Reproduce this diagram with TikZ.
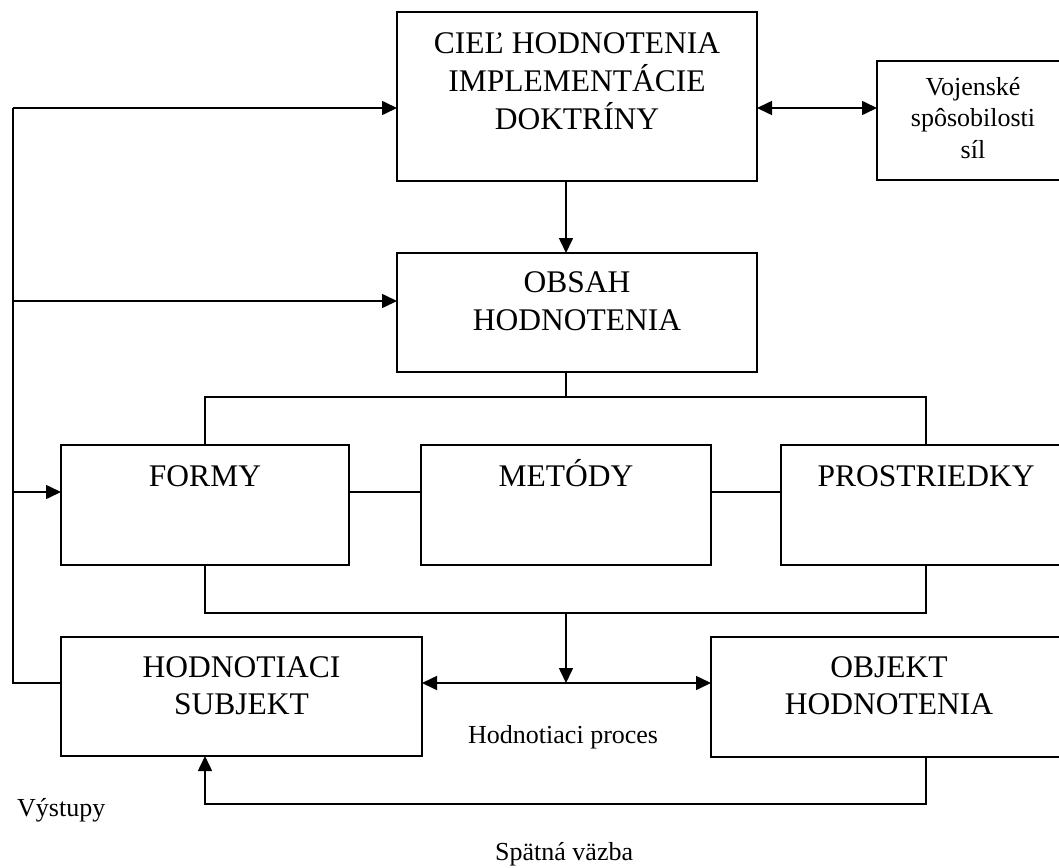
\documentclass[tikz,border=0pt]{standalone}
\usepackage{fontspec}
\setmainfont{Liberation Serif}
\usetikzlibrary{arrows.meta}
\newcommand\stack[1]{\begin{tabular}[t]{@{}c@{}}#1\end{tabular}}
\begin{document}
\begin{tikzpicture}[x=1pt,y=-1pt,
  box/.style={draw,line width=1.6pt,inner sep=0pt,outer sep=0pt},
  btxt/.style={inner sep=0pt,anchor=base,font=\fontsize{31.5}{37}\selectfont},
  stxt/.style={inner sep=0pt,font=\fontsize{26}{31.5}\selectfont},
  line/.style={line width=1.6pt},
  arr/.style={line width=1.6pt,-{Triangle[length=15pt,width=14pt]}},
  darr/.style={line width=1.6pt,{Triangle[length=15pt,width=14pt]}-{Triangle[length=15pt,width=14pt]}}]
\useasboundingbox (0,0) rectangle (1059,867);
\clip (0,0) rectangle (1059,867);

% boxes
\node[box,minimum width=360pt,minimum height=169pt] (ciel)   at (577,96.5) {};
\node[box,minimum width=192pt,minimum height=119pt] (voj)    at (973,120.5) {};
\node[box,minimum width=360pt,minimum height=119pt] (obsah)  at (577,312.5) {};
\node[box,minimum width=288pt,minimum height=120pt] (formy)  at (205,505) {};
\node[box,minimum width=290pt,minimum height=120pt] (metody) at (566,505) {};
\node[box,minimum width=290pt,minimum height=120pt] (prost)  at (926,505) {};
\node[box,minimum width=361pt,minimum height=119pt] (subj)   at (241.5,696.5) {};
\node[box,minimum width=356pt,minimum height=120pt] (objekt) at (889,697) {};

% box texts
\node[btxt] (ciel-t)   at ([yshift=-41pt]ciel.north) {\stack{CIEĽ HODNOTENIA\\IMPLEMENTÁCIE\\DOKTRÍNY}};
\node[stxt,anchor=base] (voj-t) at ([yshift=-34pt]voj.north) {\stack{Vojenské\\spôsobilosti\\síl}};
\node[btxt,font=\fontsize{31.5}{38.5}\selectfont] (obsah-t) at ([yshift=-39pt]obsah.north) {\stack{OBSAH\\HODNOTENIA}};
\node[btxt] (formy-t)  at ([yshift=-41pt]formy.north) {FORMY};
\node[btxt] (metody-t) at ([yshift=-41pt]metody.north) {METÓDY};
\node[btxt] (prost-t)  at ([yshift=-41pt]prost.north) {PROSTRIEDKY};
\node[btxt] (subj-t)   at ([yshift=-40pt]subj.north) {\stack{HODNOTIACI\\SUBJEKT}};
\node[btxt] (objekt-t) at ([yshift=-40pt]objekt.north) {\stack{OBJEKT\\HODNOTENIA}};

% free labels
\node[stxt,anchor=base west] (proces) at (468,743) {Hodnotiaci proces};
\node[stxt,anchor=base west] (vystupy) at (17,816) {Výstupy};
\node[stxt,anchor=base west] (spatna) at (495,860) {Spätná väzba};

% junction points
\coordinate (tTop)  at (13,108);
\coordinate (tObs)  at (13,301);
\coordinate (tForm) at (13,492);
\coordinate (tBot)  at (13,683);
\coordinate (busTop) at (566,397);
\coordinate (busBot) at (566,613);
\coordinate (fb)     at (566,804);

% outputs trunk on the left
\draw[line] (tBot -| subj.west) -- (tBot) -- (tTop);
\draw[arr] (tTop) -- (tTop -| ciel.west);
\draw[arr] (tObs) -- (tObs -| obsah.west);
\draw[arr] (tForm) -- (tForm -| formy.west);

% goal <-> capabilities
\draw[darr] (tTop -| ciel.east) -- (tTop -| voj.west);

% goal -> content
\draw[arr] (ciel.south -| metody.north) -- (obsah.north -| metody.north);

% content -> forms / means
\draw[line] (obsah.south -| busTop) -- (busTop);
\draw[line] (formy.north) -- (formy.north |- busTop) -- (prost.north |- busTop) -- (prost.north);
\draw[line] (tForm -| formy.east) -- (tForm -| metody.west);
\draw[line] (tForm -| metody.east) -- (tForm -| prost.west);

% forms / means -> evaluation process
\draw[line] (formy.south) -- (formy.south |- busBot) -- (prost.south |- busBot) -- (prost.south);
\draw[arr] (busBot) -- (busBot |- tBot);
\draw[darr] (tBot -| subj.east) -- (tBot -| objekt.west);

% feedback
\draw[arr] (objekt.south -| prost.south) -- (fb -| prost.south) -- (fb -| formy.south) -- (subj.south -| formy.south);
\end{tikzpicture}
\end{document}
